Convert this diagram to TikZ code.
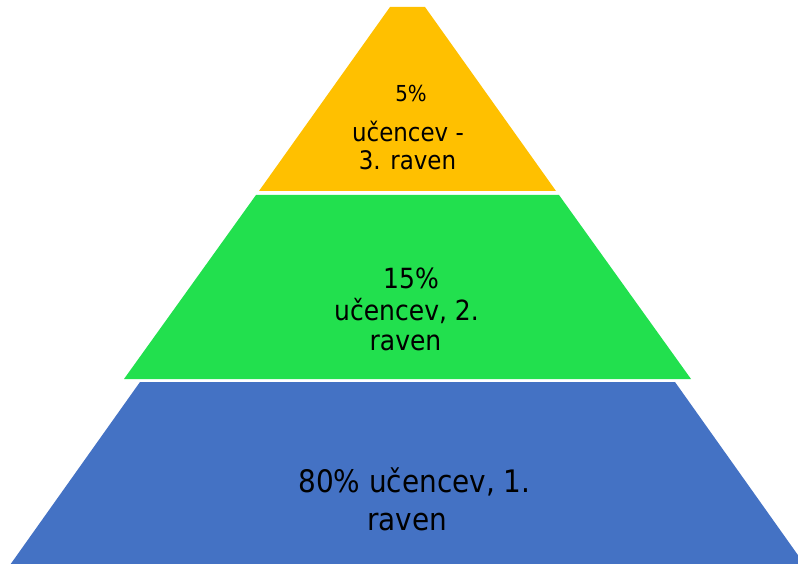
\documentclass[tikz,border=0pt]{standalone}
\usepackage{fontspec}
\setmainfont{DejaVu Sans Condensed}
\definecolor{lvlyellow}{RGB}{255,192,0}
\definecolor{lvlgreen}{RGB}{34,224,78}
\definecolor{lvlblue}{RGB}{68,114,196}
\begin{document}
\begin{tikzpicture}[x=1pt,y=-1pt,
  lbl/.style={anchor=base,inner sep=0pt,text=black},
  tbig/.style={lbl,font=\fontsize{31}{36}\selectfont},
  tmid/.style={lbl,font=\fontsize{27.8}{32}\selectfont},
  tsmall/.style={lbl,font=\fontsize{25.5}{30}\selectfont},
  ttiny/.style={lbl,font=\fontsize{22}{26}\selectfont}]
\useasboundingbox (0,0) rectangle (798,564);
\clip (0,0) rectangle (798,564);
% levels
\fill[lvlyellow] (390,7) -- (425,7) -- (556,191) -- (259,191) -- cycle;
\fill[lvlgreen] (256,195) -- (559,195) -- (691,379) -- (124,379) -- cycle;
\fill[lvlblue] (140,382) -- (675,382) -- (805,565) -- (10,565) -- cycle;
% texts
\node[ttiny] (y1) at (411,102) {5\%};
\node[tsmall] (y2) at (408,142) {učencev -};
\node[tsmall] (y3) at (407.5,170) {3. raven};
\node[tmid] (g1) at (411,288) {15\%};
\node[tmid] (g2) at (406.5,320) {učencev, 2.};
\node[tmid] (g3) at (405.5,350) {raven};
\node[tbig] (b1) at (414.5,492) {80\% učencev, 1.};
\node[tbig] (b2) at (407,530) {raven};
\end{tikzpicture}
\end{document}
